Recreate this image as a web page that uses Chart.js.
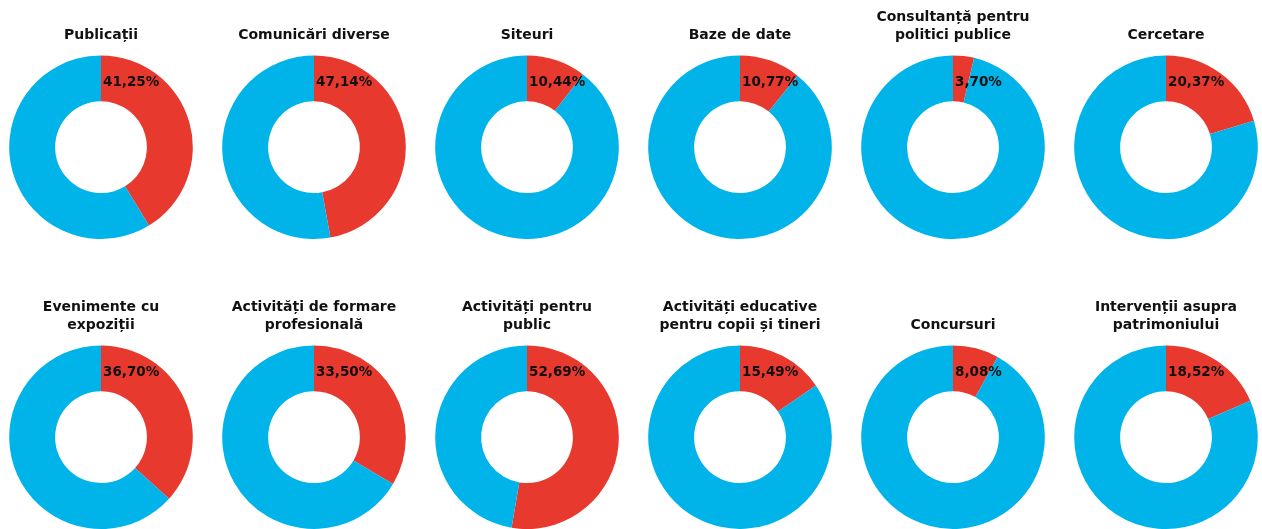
<!DOCTYPE html>
<html lang="ro">
<head>
<meta charset="utf-8">
<title>Activități</title>
<script src="https://cdn.jsdelivr.net/npm/chart.js@4.4.1/dist/chart.umd.min.js"></script>
<style>
    html, body {
        margin: 0;
        padding: 0;
        background: #ffffff;
    }
    #grid {
        position: relative;
        width: 1262px;
        height: 529px;
        overflow: hidden;
    }
    #grid canvas {
        position: absolute;
    }
</style>
</head>
<body>
<div id="grid"></div>
<script>
// Titles, one array of lines per chart ('' keeps single-line titles on the lower line)
const categories = [
    ['', 'Publicații'],
    ['', 'Comunicări diverse'],
    ['', 'Siteuri'],
    ['', 'Baze de date'],
    ['Consultanță pentru', 'politici publice'],
    ['', 'Cercetare'],
    ['Evenimente cu', 'expoziții'],
    ['Activități de formare', 'profesională'],
    ['Activități pentru', 'public'],
    ['Activități educative', 'pentru copii și tineri'],
    ['', 'Concursuri'],
    ['Intervenții asupra', 'patrimoniului']
];

// Share of the red slice, in percent
const values = [41.25, 47.14, 10.44, 10.77, 3.70, 20.37, 36.70, 33.50, 52.69, 15.49, 8.08, 18.52];

const RED = '#E8392F';
const BLUE = '#00B3E9';
const FONT = "'DejaVu Sans', sans-serif";

// Draws the percentage just right of the top of the red slice
const percentLabel = {
    id: 'percentLabel',
    afterDatasetsDraw(chart) {
        const arc = chart.getDatasetMeta(0).data[0];
        if (!arc) return;
        const value = chart.data.datasets[0].data[0];
        const ctx = chart.ctx;
        ctx.save();
        ctx.font = 'bold 13.5px ' + FONT;
        ctx.fillStyle = '#111111';
        ctx.textAlign = 'left';
        ctx.textBaseline = 'middle';
        ctx.fillText(value.toFixed(2).replace('.', ',') + '%', arc.x + 2, arc.y - arc.outerRadius * 0.71);
        ctx.restore();
    }
};

const grid = document.getElementById('grid');

categories.forEach((title, i) => {
    const col = i % 6;
    const row = Math.floor(i / 6);

    const canvas = document.createElement('canvas');
    canvas.width = 212;
    canvas.height = 240;
    canvas.style.left = (101 + col * 213 - 106) + 'px';
    canvas.style.top = (row * 290) + 'px';
    grid.appendChild(canvas);

    new Chart(canvas.getContext('2d'), {
        type: 'doughnut',
        data: {
            labels: ['Da', 'Nu'],
            datasets: [{
                data: [values[i], 100 - values[i]],
                backgroundColor: [RED, BLUE],
                borderWidth: 0
            }]
        },
        options: {
            responsive: false,
            animation: false,
            cutout: '50%',
            layout: {
                padding: { top: 0, bottom: 1, left: 0, right: 0 }
            },
            plugins: {
                legend: { display: false },
                tooltip: { enabled: false },
                title: {
                    display: true,
                    text: title,
                    color: '#111111',
                    font: { family: FONT, size: 14, weight: 'bold', lineHeight: 1.3 },
                    padding: { top: 8, bottom: 11 }
                }
            }
        },
        plugins: [percentLabel]
    });
});
</script>
</body>
</html>
